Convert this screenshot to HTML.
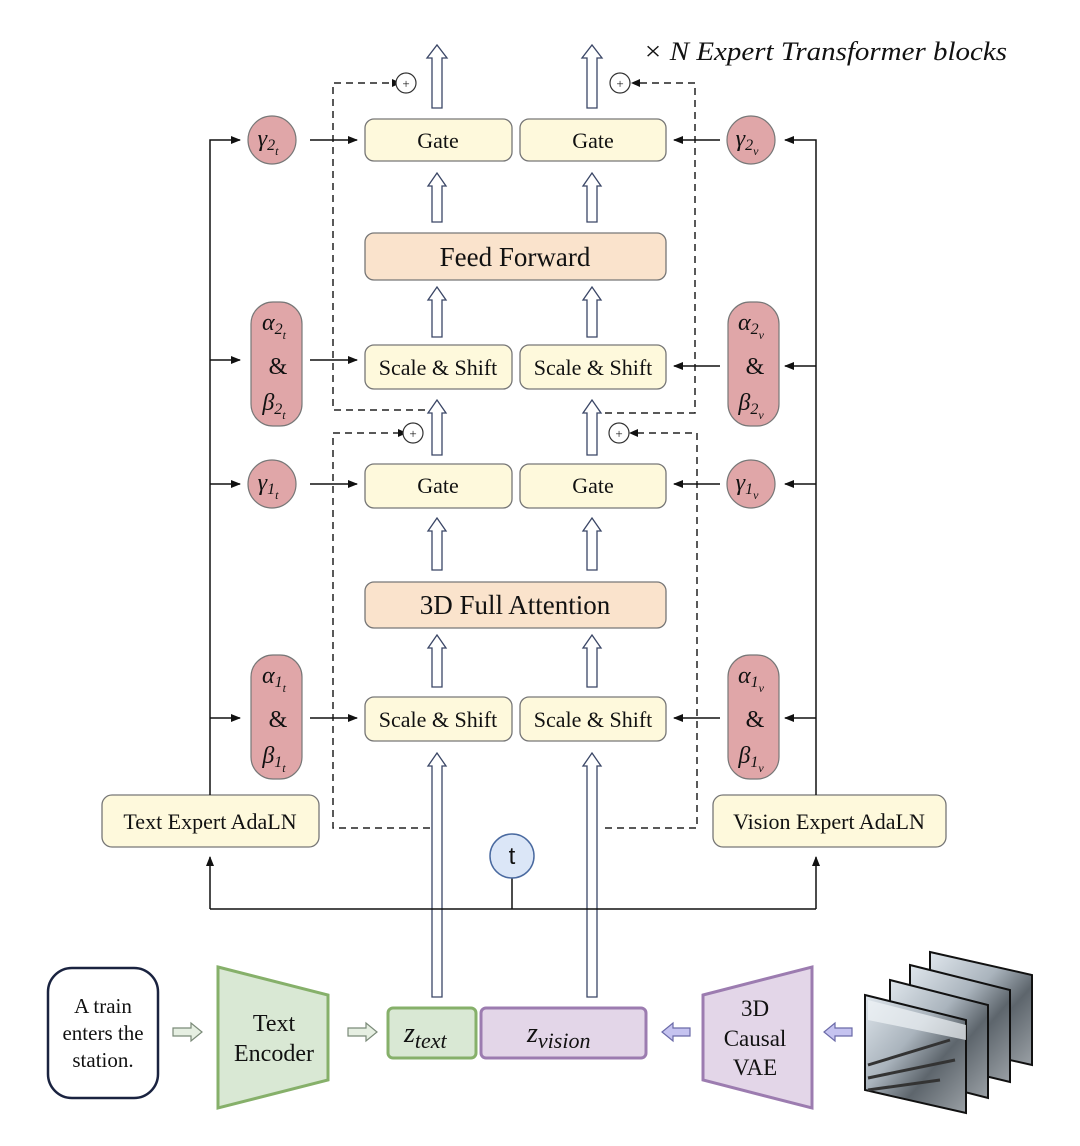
<!DOCTYPE html>
<html><head><meta charset="utf-8"><style>
html,body{margin:0;padding:0;background:#fff}
svg{display:block}
text{font-family:"Liberation Serif",serif;fill:#111}
</style></head><body>
<svg width="1080" height="1146" viewBox="0 0 1080 1146" xmlns="http://www.w3.org/2000/svg">
<defs>
<marker id="ah" markerWidth="10" markerHeight="8" refX="9" refY="4" orient="auto" markerUnits="userSpaceOnUse"><path d="M0,0 L10,4 L0,8 Z" fill="#111"/></marker>
<linearGradient id="img" x1="0" y1="0" x2="1" y2="1"><stop offset="0" stop-color="#dfe6ec"/><stop offset="0.4" stop-color="#aab4bd"/><stop offset="0.65" stop-color="#5d656c"/><stop offset="1" stop-color="#9aa0a5"/></linearGradient>
</defs>

<g fill="none" stroke="#222" stroke-width="1.5" stroke-dasharray="7,5">
<path d="M437,410 H333 V83 H392"/>
<path d="M605,413 H695 V83 H640"/>
<path d="M430,828 H333 V433 H398"/>
<path d="M605,828 H697 V433 H638"/>
</g>
<g fill="#111"><path d="M392,79 L401,83 L392,87Z"/><path d="M640,79 L631,83 L640,87Z"/><path d="M398,429 L407,433 L398,437Z"/><path d="M638,429 L629,433 L638,437Z"/></g>
<g fill="#fff" stroke="#333" stroke-width="1.2">
<circle cx="406" cy="83" r="10"/><circle cx="620" cy="83" r="10"/><circle cx="413" cy="433" r="10"/><circle cx="619" cy="433" r="10"/>
</g>
<g font-size="13" text-anchor="middle"><text x="406" y="88">+</text><text x="620" y="88">+</text><text x="413" y="438">+</text><text x="619" y="438">+</text></g>

<g fill="#fff" stroke="#3a4666" stroke-width="1.3">
<path d="M432,108 V58 H427 L437,45 L447,58 H442 V108Z"/>
<path d="M587,108 V58 H582 L592,45 L602,58 H597 V108Z"/>
<path d="M432,222 V186 H428 L437,173 L446,186 H442 V222Z"/>
<path d="M587,222 V186 H583 L592,173 L601,186 H597 V222Z"/>
<path d="M432,337 V300 H428 L437,287 L446,300 H442 V337Z"/>
<path d="M587,337 V300 H583 L592,287 L601,300 H597 V337Z"/>
<path d="M432,455 V413 H428 L437,400 L446,413 H442 V455Z"/>
<path d="M587,455 V413 H583 L592,400 L601,413 H597 V455Z"/>
<path d="M432,570 V531 H428 L437,518 L446,531 H442 V570Z"/>
<path d="M587,570 V531 H583 L592,518 L601,531 H597 V570Z"/>
<path d="M432,687 V648 H428 L437,635 L446,648 H442 V687Z"/>
<path d="M587,687 V648 H583 L592,635 L601,648 H597 V687Z"/>
<path d="M432,997 V766 H428 L437,753 L446,766 H442 V997Z"/>
<path d="M587,997 V766 H583 L592,753 L601,766 H597 V997Z"/>
</g>

<g stroke="#777" stroke-width="1.3">
<rect x="365" y="119" width="147" height="42" rx="9" fill="#fef9dc"/>
<rect x="520" y="119" width="146" height="42" rx="9" fill="#fef9dc"/>
<rect x="365" y="233" width="301" height="47" rx="9" fill="#fae3cc"/>
<rect x="365" y="345" width="147" height="44" rx="9" fill="#fef9dc"/>
<rect x="520" y="345" width="146" height="44" rx="9" fill="#fef9dc"/>
<rect x="365" y="464" width="147" height="44" rx="9" fill="#fef9dc"/>
<rect x="520" y="464" width="146" height="44" rx="9" fill="#fef9dc"/>
<rect x="365" y="582" width="301" height="46" rx="9" fill="#fae3cc"/>
<rect x="365" y="697" width="147" height="44" rx="9" fill="#fef9dc"/>
<rect x="520" y="697" width="146" height="44" rx="9" fill="#fef9dc"/>
<rect x="102" y="795" width="217" height="52" rx="10" fill="#fef9dc"/>
<rect x="713" y="795" width="233" height="52" rx="10" fill="#fef9dc"/>
</g>
<g font-size="22" text-anchor="middle">
<text x="438" y="148">Gate</text><text x="593" y="148">Gate</text>
<text x="438" y="493">Gate</text><text x="593" y="493">Gate</text>
<text x="438" y="375">Scale &amp; Shift</text><text x="593" y="375">Scale &amp; Shift</text>
<text x="438" y="727">Scale &amp; Shift</text><text x="593" y="727">Scale &amp; Shift</text>
<text x="515" y="266" font-size="27">Feed Forward</text>
<text x="515" y="614" font-size="27">3D Full Attention</text>
<text x="210" y="829">Text Expert AdaLN</text>
<text x="829" y="829">Vision Expert AdaLN</text>
</g>
<text x="643" y="60" font-size="26" font-style="italic" textLength="364" lengthAdjust="spacingAndGlyphs">× N Expert Transformer blocks</text>

<g fill="none" stroke="#111" stroke-width="1.5">
<path d="M210,795 V140 H240" marker-end="url(#ah)"/>
<path d="M210,360 H240" marker-end="url(#ah)"/>
<path d="M210,484 H240" marker-end="url(#ah)"/>
<path d="M210,718 H240" marker-end="url(#ah)"/>
<path d="M816,795 V140 H785" marker-end="url(#ah)"/>
<path d="M816,366 H785" marker-end="url(#ah)"/>
<path d="M816,484 H785" marker-end="url(#ah)"/>
<path d="M816,718 H785" marker-end="url(#ah)"/>
<path d="M310,140 H357" marker-end="url(#ah)"/>
<path d="M310,360 H357" marker-end="url(#ah)"/>
<path d="M310,484 H357" marker-end="url(#ah)"/>
<path d="M310,718 H357" marker-end="url(#ah)"/>
<path d="M720,140 H674" marker-end="url(#ah)"/>
<path d="M720,366 H674" marker-end="url(#ah)"/>
<path d="M720,484 H674" marker-end="url(#ah)"/>
<path d="M720,718 H674" marker-end="url(#ah)"/>
<path d="M210,909 H816"/>
<path d="M210,909 V857" marker-end="url(#ah)"/>
<path d="M816,909 V857" marker-end="url(#ah)"/>
<path d="M512,878 V909"/>
</g>
<circle cx="512" cy="856" r="22" fill="#dbe6f7" stroke="#4a6aa0" stroke-width="1.5"/>
<text x="512" y="864" font-size="24" text-anchor="middle" style="font-family:'Liberation Sans',sans-serif">t</text>

<g fill="#e0a6a8" stroke="#777" stroke-width="1.2">
<circle cx="272" cy="140" r="24"/><circle cx="272" cy="484" r="24"/>
<circle cx="751" cy="140" r="24"/><circle cx="751" cy="484" r="24"/>
<rect x="251" y="302" width="51" height="124" rx="22"/>
<rect x="251" y="655" width="51" height="124" rx="22"/>
<rect x="728" y="302" width="51" height="124" rx="22"/>
<rect x="728" y="655" width="51" height="124" rx="22"/>
</g>
<g font-size="24" font-style="italic" text-anchor="middle">
<text x="268" y="146">γ<tspan font-size="16" dy="4">2</tspan><tspan font-size="12" dy="5">t</tspan></text>
<text x="268" y="490">γ<tspan font-size="16" dy="4">1</tspan><tspan font-size="12" dy="5">t</tspan></text>
<text x="747" y="146">γ<tspan font-size="16" dy="4">2</tspan><tspan font-size="12" dy="5">v</tspan></text>
<text x="747" y="490">γ<tspan font-size="16" dy="4">1</tspan><tspan font-size="12" dy="5">v</tspan></text>
<text x="274" y="330">α<tspan font-size="16" dy="4">2</tspan><tspan font-size="12" dy="5">t</tspan></text>
<text x="278" y="374" font-style="normal">&amp;</text>
<text x="274" y="410">β<tspan font-size="16" dy="4">2</tspan><tspan font-size="12" dy="5">t</tspan></text>
<text x="274" y="683">α<tspan font-size="16" dy="4">1</tspan><tspan font-size="12" dy="5">t</tspan></text>
<text x="278" y="727" font-style="normal">&amp;</text>
<text x="274" y="763">β<tspan font-size="16" dy="4">1</tspan><tspan font-size="12" dy="5">t</tspan></text>
<text x="751" y="330">α<tspan font-size="16" dy="4">2</tspan><tspan font-size="12" dy="5">v</tspan></text>
<text x="755" y="374" font-style="normal">&amp;</text>
<text x="751" y="410">β<tspan font-size="16" dy="4">2</tspan><tspan font-size="12" dy="5">v</tspan></text>
<text x="751" y="683">α<tspan font-size="16" dy="4">1</tspan><tspan font-size="12" dy="5">v</tspan></text>
<text x="755" y="727" font-style="normal">&amp;</text>
<text x="751" y="763">β<tspan font-size="16" dy="4">1</tspan><tspan font-size="12" dy="5">v</tspan></text>
</g>

<rect x="48" y="968" width="110" height="130" rx="24" fill="#fff" stroke="#1a2340" stroke-width="2.5"/>
<g font-size="21" text-anchor="middle"><text x="103" y="1013">A train</text><text x="103" y="1040">enters the</text><text x="103" y="1067">station.</text></g>
<path d="M218,967 L328,995 L328,1080 L218,1108Z" fill="#d9e8d4" stroke="#86b06a" stroke-width="3"/>
<g font-size="24" text-anchor="middle"><text x="274" y="1031">Text</text><text x="274" y="1061">Encoder</text></g>
<rect x="388" y="1008" width="88" height="50" rx="5" fill="#d9e8d4" stroke="#86b06a" stroke-width="3"/>
<rect x="481" y="1008" width="165" height="50" rx="5" fill="#e3d6e8" stroke="#9c7cb0" stroke-width="3"/>
<text x="404" y="1042" font-size="28" font-style="italic">z<tspan font-size="22" dy="6">text</tspan></text>
<text x="527" y="1042" font-size="28" font-style="italic">z<tspan font-size="22" dy="6">vision</tspan></text>
<path d="M703,995 L812,967 L812,1108 L703,1080Z" fill="#e3d6e8" stroke="#9c7cb0" stroke-width="3"/>
<g font-size="23" text-anchor="middle"><text x="755" y="1016">3D</text><text x="755" y="1046">Causal</text><text x="755" y="1075">VAE</text></g>
<g stroke="#7a8a78" stroke-width="1.2" fill="#e6efe2">
<path d="M173,1028 H191 V1023 L202,1032 L191,1041 V1036 H173Z"/>
<path d="M348,1028 H366 V1023 L377,1032 L366,1041 V1036 H348Z"/>
</g>
<g stroke="#6a6aa8" stroke-width="1.2" fill="#c5c3f0">
<path d="M690,1028 H673 V1023 L662,1032 L673,1041 V1036 H690Z"/>
<path d="M852,1028 H835 V1023 L824,1032 L835,1041 V1036 H852Z"/>
</g>
<g stroke="#111" stroke-width="2">
<path d="M930,952 L1032,975 L1032,1065 L930,1042Z" fill="url(#img)"/>
<path d="M910,965 L1010,990 L1010,1082 L910,1058Z" fill="url(#img)"/>
<path d="M890,980 L988,1005 L988,1098 L890,1073Z" fill="url(#img)"/>
<path d="M865,995 L966,1020 L966,1113 L865,1090Z" fill="url(#img)"/>
</g>
<path d="M868,1065 L950,1040 M868,1078 L955,1060 M868,1090 L940,1080" stroke="#333" stroke-width="3"/>
<path d="M868,1000 L966,1025 L966,1040 L868,1020Z" fill="#f0f3f6" opacity="0.7"/>
</svg>
</body></html>
